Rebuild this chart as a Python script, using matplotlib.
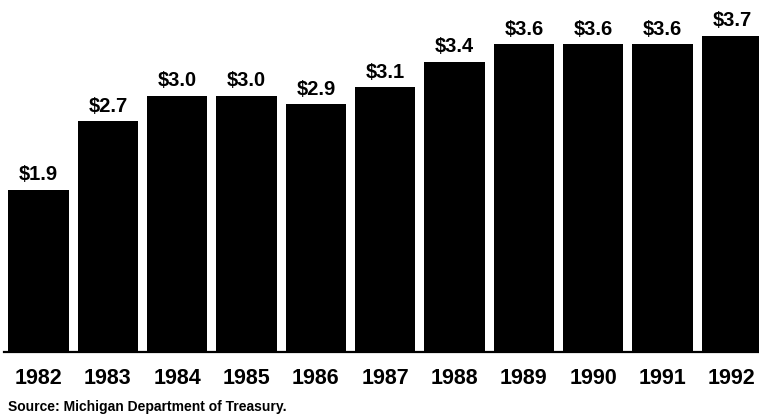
import matplotlib

matplotlib.use("Agg")
import matplotlib.pyplot as plt

years = ["1982", "1983", "1984", "1985", "1986", "1987", "1988", "1989", "1990", "1991", "1992"]
values = [1.9, 2.7, 3.0, 3.0, 2.9, 3.1, 3.4, 3.6, 3.6, 3.6, 3.7]
value_labels = ["$1.9", "$2.7", "$3.0", "$3.0", "$2.9", "$3.1", "$3.4", "$3.6", "$3.6", "$3.6", "$3.7"]
source = "Source: Michigan Department of Treasury."

plt.rcParams["font.family"] = ["Liberation Sans", "DejaVu Sans"]

fig = plt.figure(figsize=(7.59, 4.17), dpi=100)
ax = fig.add_axes([0, 65 / 417, 1, 352 / 417])
x = list(range(len(years)))
ax.bar(x, values, width=0.87, color="black", edgecolor="none")
ax.set_xlim(-0.555, 10.39)
ax.set_ylim(0, 4.12)
ax.axis("off")

# baseline
ax.plot([-0.5, 10.39], [0, 0], color="black", lw=1.6, clip_on=False)

for xi, v, lab in zip(x, values, value_labels):
    ax.annotate(lab, (xi, v), xytext=(0, 4), textcoords="offset points",
                ha="center", va="bottom", fontsize=14.5, fontweight="bold")

for xi, yr in zip(x, years):
    ax.annotate(yr, (xi, 0), xytext=(0, -19), textcoords="offset points",
                ha="center", va="center", fontsize=15.5, fontweight="bold")

fig.text(8 / 759, 1 - 407 / 417, source, ha="left", va="center",
         fontsize=10, fontweight="bold")

fig.savefig("out.png", dpi=100, facecolor="white")
